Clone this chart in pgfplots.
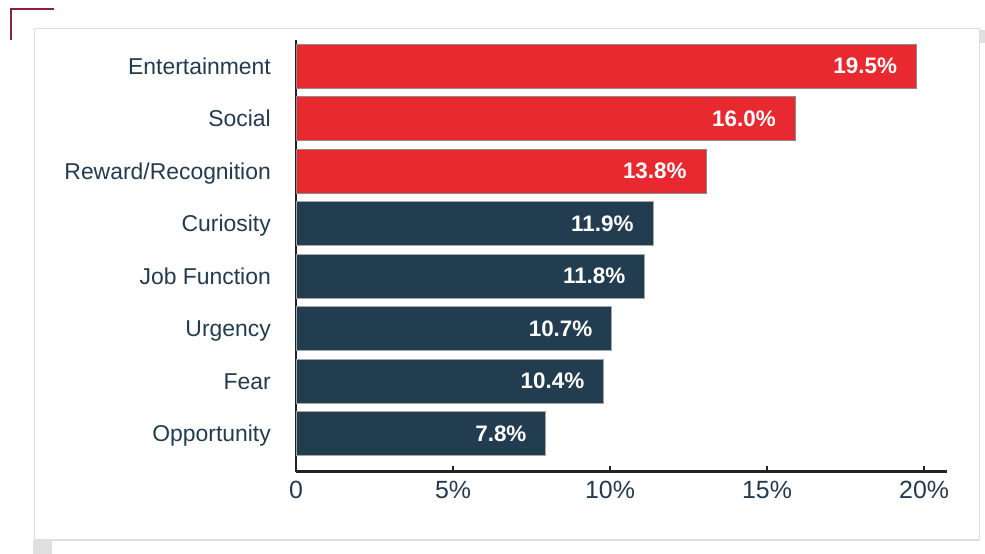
\documentclass[border=0pt]{standalone}
\usepackage{fontspec}
\setmainfont{Liberation Sans}
\usepackage{pgfplots}
\usepackage{pgfplotstable}
\pgfplotsset{compat=1.18}

\definecolor{barred}{HTML}{E8292F}
\definecolor{barnavy}{HTML}{233D50}
\definecolor{labelcol}{HTML}{233B4E}
\definecolor{bracket}{HTML}{8C2338}
\definecolor{axisdark}{HTML}{222222}

% pos: 7 = top row; val: bar length as drawn; lab: printed value
\pgfplotstableread{
pos val lab
7 19.75 19.5
6 15.89 16.0
5 13.05 13.8
}\redrows
\pgfplotstableread{
pos val lab
4 11.36 11.9
3 11.10 11.8
2 10.05 10.7
1 9.79 10.4
0 7.95 7.8
}\navyrows

\begin{document}
\begin{tikzpicture}
\fill[white] (0bp,0bp) rectangle (985bp,554bp);
% page shadows
\fill[black!12] (33bp,0bp) rectangle (52bp,14bp);
\fill[black!12] (980bp,511bp) rectangle (985bp,524bp);
% card
\draw[black!13, line width=1.5bp, fill=white] (34.5bp,14bp) rectangle (979.5bp,525.7bp);
% corner bracket
\draw[bracket, line width=2.5bp, line join=miter] (11bp,514bp) -- (11bp,545bp) -- (54bp,545bp);

\begin{axis}[
  at={(296bp,82.3bp)}, anchor=south west,
  scale only axis, width=650.7bp, height=431.7bp,
  xbar, bar width=0.838,
  xmin=0, xmax=20.72,
  ymin=-0.728, ymax=7.5,
  axis x line=bottom, axis y line=left,
  axis line style={draw=axisdark, line width=2.6bp, -},
  xtick={0,5,10,15,20},
  xticklabels={0,5\%,10\%,15\%,20\%},
  tick align=inside,
  major tick length=6bp,
  xtick style={draw=axisdark, line width=1.8bp},
  ytick={0,...,7},
  yticklabels={Opportunity,Fear,Urgency,Job Function,Curiosity,Reward/Recognition,Social,Entertainment},
  ytick style={draw=none},
  /pgf/number format/assume math mode=true,
  xticklabel style={font=\fontsize{25}{28}\selectfont, text=labelcol, inner sep=0pt, anchor=base, yshift=-27.3bp},
  yticklabel style={font=\fontsize{23}{26}\selectfont, text=labelcol, inner sep=0pt, anchor=base east, xshift=-25bp, yshift=-8bp},
  point meta=explicit symbolic,
  nodes near coords={\pgfplotspointmeta\%},
  nodes near coords align={anchor=east},
  nodes near coords style={anchor=east, xshift=-19bp, text=white, inner sep=0pt,
    font=\bfseries\fontsize{22.5}{25}\selectfont},
  clip=false,
]
\addplot[bar shift=0pt, fill=barred, draw=black!45, line width=0.5bp]
  table[x=val, y=pos, meta=lab] {\redrows};
\addplot[bar shift=0pt, fill=barnavy, draw=black!35, line width=0.5bp]
  table[x=val, y=pos, meta=lab] {\navyrows};
\end{axis}
\end{tikzpicture}
\end{document}
